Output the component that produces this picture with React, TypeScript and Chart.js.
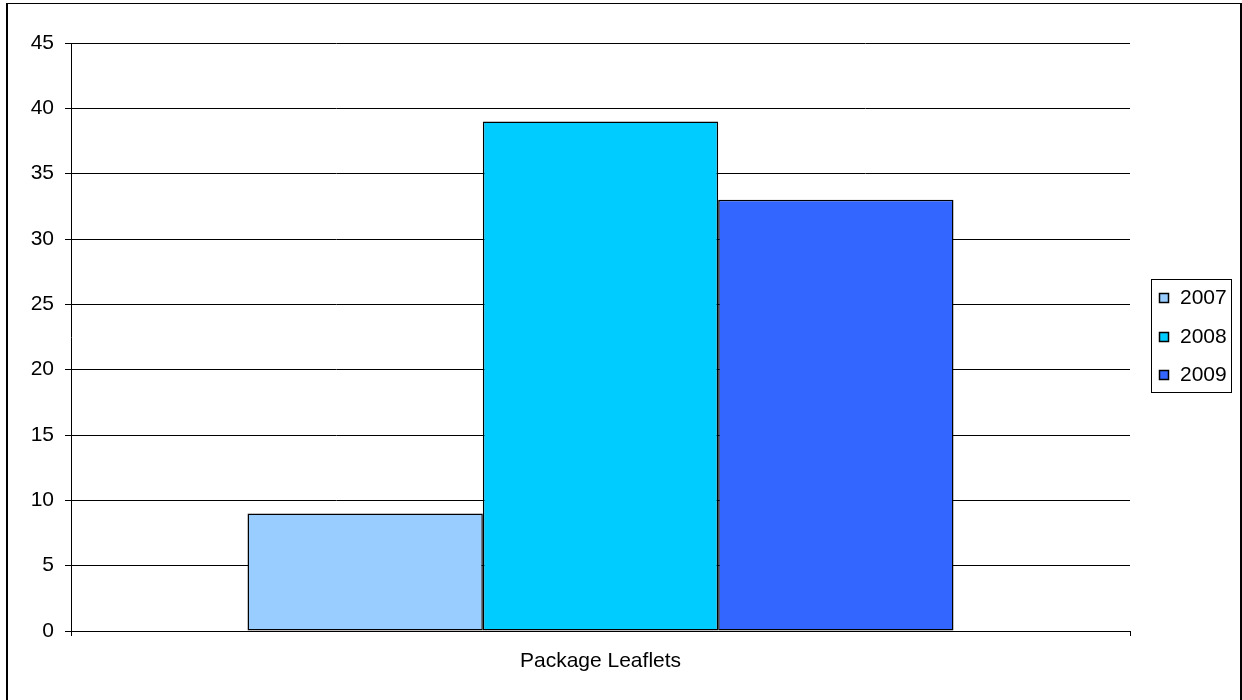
import React, { useEffect, useRef } from "react";
import { Chart, registerables } from "chart.js";

Chart.register(...registerables);

const categories = ["Package Leaflets"];
const seriesNames = ["2007", "2008", "2009"];
const series2007 = [9];
const series2008 = [39];
const series2009 = [33];
const seriesColors = ["#99CCFF", "#00CCFF", "#3366FF"];
const yMin = 0;
const yMax = 45;
const yStep = 5;

const FONT = "'Liberation Sans', Arial, sans-serif";

const frameAndLegend = {
  id: "frameAndLegend",
  afterDraw(chart: any) {
    const ctx = chart.ctx;
    ctx.save();
    // outer frame
    ctx.fillStyle = "#000";
    ctx.fillRect(6, 3, 2, 700);
    ctx.fillRect(6, 3, 1236, 1);
    ctx.fillRect(1240, 3, 2, 700);
    // legend box
    ctx.strokeStyle = "#000";
    ctx.lineWidth = 1;
    ctx.strokeRect(1151.5, 279.5, 80, 113);
    const ys = [298, 337, 375];
    chart.data.datasets.forEach((ds: any, i: number) => {
      const y = ys[i];
      ctx.fillStyle = ds.backgroundColor;
      ctx.fillRect(1159, y - 5, 10, 10);
      ctx.strokeStyle = "#000";
      ctx.lineWidth = 1.5;
      ctx.strokeRect(1159.5, y - 4.5, 9, 9);
      ctx.fillStyle = "#000";
      ctx.font = `21px ${FONT}`;
      ctx.textBaseline = "middle";
      ctx.textAlign = "left";
      ctx.fillText(ds.label, 1180, y);
    });
    ctx.restore();
  },
};

export default function App() {
  const ref = useRef<HTMLCanvasElement | null>(null);
  useEffect(() => {
    if (!ref.current) return;
    const values = [series2007, series2008, series2009];
    const chart = new Chart(ref.current, {
      type: "bar",
      data: {
        labels: categories,
        datasets: seriesNames.map((name, i) => ({
          label: name,
          data: values[i],
          backgroundColor: seriesColors[i],
          borderColor: "#000",
          borderWidth: 1.5,
          borderSkipped: false,
          categoryPercentage: 2 / 3,
          barPercentage: 1,
        })),
      },
      options: {
        responsive: false,
        animation: false,
        devicePixelRatio: 1,
        layout: { padding: { left: 0, top: 43, right: 112, bottom: 0 } },
        plugins: {
          legend: { display: false },
          tooltip: { enabled: false },
        },
        scales: {
          x: {
            afterFit: (s: any) => {
              s.height = 69;
            },
            grid: {
              display: true,
              drawOnChartArea: false,
              drawTicks: true,
              tickLength: 5,
              color: "#000",
              offset: true,
            },
            border: { display: true, color: "#000", width: 1 },
            ticks: {
              color: "#000",
              font: { family: FONT, size: 21 },
              padding: 13,
            },
          },
          y: {
            min: yMin,
            max: yMax,
            afterFit: (s: any) => {
              s.width = 71;
            },
            grid: {
              color: "#000",
              drawTicks: true,
              tickLength: 6,
            },
            border: { display: true, color: "#000", width: 1 },
            ticks: {
              stepSize: yStep,
              color: "#000",
              font: { family: FONT, size: 21 },
              padding: 11,
            },
          },
        },
      },
      plugins: [frameAndLegend],
    });
    return () => chart.destroy();
  }, []);
  return (
    <div style={{ position: "absolute", left: 0, top: 0, width: 1242, height: 700, background: "#fff" }}>
      <canvas ref={ref} width={1242} height={700} style={{ display: "block" }} />
    </div>
  );
}
